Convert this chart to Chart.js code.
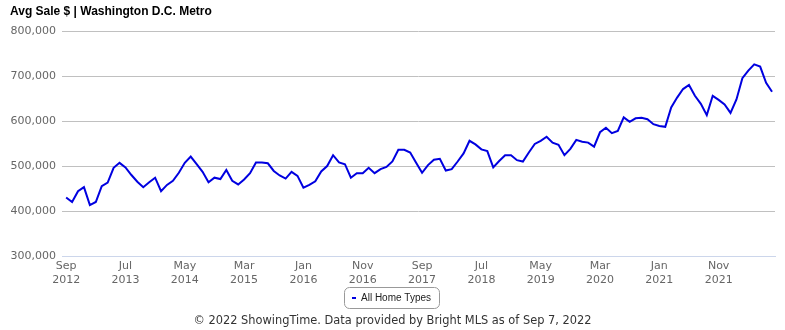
<!DOCTYPE html>
<html>
<head>
<meta charset="utf-8">
<script src="https://cdn.jsdelivr.net/npm/chart.js@4"></script>
<style>
  html, body { margin: 0; padding: 0; background: #fff; }
  #wrap { width: 785px; height: 330px; position: relative; }
</style>
</head>
<body>
<div id="wrap"><canvas id="avg-sale-chart"></canvas></div>
<script>
// monthly avg sale price, Sep 2012 .. Aug 2022 (in $1000s)
const avgSale = [
  430, 420, 444, 453, 413, 420, 455, 463, 496, 507,
  497, 480, 465, 453, 464, 474, 444, 458, 467, 485,
  507, 521, 504, 487, 464, 474, 471, 491, 467, 459,
  470, 484, 508, 508, 506, 489, 479, 472, 487, 478,
  452, 458, 466, 488, 500, 524, 508, 504, 474, 484,
  484, 496, 484, 493, 498, 510, 536, 536, 530, 507,
  485, 502, 514, 516, 490, 493, 510, 528, 556, 548,
  537, 533, 497, 511, 524, 524, 513, 510, 530, 549,
  556, 565, 552, 547, 524, 538, 558, 554, 552, 543,
  575, 585, 573, 578, 608, 598, 606, 607, 604, 593,
  589, 587, 630, 652, 671, 680, 656, 638, 613, 656,
  647, 637, 618, 648, 695, 712, 726, 721, 685, 665
];

// x ticks sit every 10 months starting at Sep 2012
const tickPositions = [0, 10, 20, 30, 40, 50, 60, 70, 80, 90, 100, 110];
const tickLabels = [
  ['Sep', '2012'], ['Jul', '2013'], ['May', '2014'], ['Mar', '2015'],
  ['Jan', '2016'], ['Nov', '2016'], ['Sep', '2017'], ['Jul', '2018'],
  ['May', '2019'], ['Mar', '2020'], ['Jan', '2021'], ['Nov', '2021']
];

const chartTitle = 'Avg Sale $ | Washington D.C. Metro';
const seriesName = 'All Home Types';
const credit = '\u00a9 2022 ShowingTime. Data provided by Bright MLS as of Sep 7, 2022';

const lineColor = '#0000e0';

// title, boxed legend and credit line drawn on top
const decorations = {
  id: 'decorations',
  afterDraw(chart) {
    const ctx = chart.ctx;
    ctx.save();
    ctx.fillStyle = '#000';
    ctx.font = 'bold 12px "Liberation Sans", Arial, sans-serif';
    ctx.textBaseline = 'alphabetic';
    ctx.textAlign = 'left';
    ctx.fillText(chartTitle, 10, 15);

    // legend box
    const bx = 344.5, by = 287.5, bw = 95, bh = 21;
    ctx.beginPath();
    ctx.roundRect(bx, by, bw, bh, 5);
    ctx.strokeStyle = '#999';
    ctx.lineWidth = 1;
    ctx.stroke();
    ctx.strokeStyle = lineColor;
    ctx.lineWidth = 2;
    ctx.beginPath();
    ctx.moveTo(352, 298);
    ctx.lineTo(356, 298);
    ctx.stroke();
    ctx.fillStyle = '#222';
    ctx.font = '10px "Liberation Sans", Arial, sans-serif';
    ctx.textBaseline = 'middle';
    ctx.fillText(seriesName, 361, 298.5);

    ctx.fillStyle = '#333';
    ctx.font = '11.4px "DejaVu Sans", sans-serif';
    ctx.textAlign = 'center';
    ctx.fillText(credit, 392.5, 321);
    ctx.restore();
  }
};

const ctx = document.getElementById('avg-sale-chart').getContext('2d');

new Chart(ctx, {
  type: 'line',
  data: {
    datasets: [{
      label: seriesName,
      data: avgSale.map((v, i) => ({ x: i, y: v * 1000 })),
      borderColor: lineColor,
      borderWidth: 2,
      pointRadius: 0,
      tension: 0,
      fill: false,
    }],
  },
  options: {
    responsive: true,
    maintainAspectRatio: false,
    animation: false,
    layout: { padding: { top: 31, right: 10, bottom: 0, left: 0 } },
    plugins: {
      legend: { display: false },
      title: { display: false },
      tooltip: { enabled: false },
    },
    scales: {
      x: {
        type: 'linear',
        min: -0.7,
        max: 119.5,
        afterBuildTicks: scale => {
          scale.ticks = tickPositions.map(v => ({ value: v }));
        },
        afterFit: scale => { scale.height = 74; },
        grid: { display: false, drawTicks: false },
        border: { color: '#ccd6eb' },
        ticks: {
          autoSkip: false,
          maxRotation: 0,
          padding: 4,
          color: '#666',
          font: { family: '"DejaVu Sans", sans-serif', size: 11 },
          callback: (value, index) => tickLabels[index],
        },
      },
      y: {
        min: 300000,
        max: 800000,
        afterFit: scale => { scale.width = 62; },
        grid: { color: '#c0c0c0', drawTicks: false },
        border: { display: false },
        ticks: {
          stepSize: 100000,
          padding: 6,
          color: '#666',
          font: { family: '"DejaVu Sans", sans-serif', size: 11 },
          callback: value => value.toLocaleString('en-US'),
        },
      },
    },
  },
  plugins: [decorations],
});
</script>
</body>
</html>
